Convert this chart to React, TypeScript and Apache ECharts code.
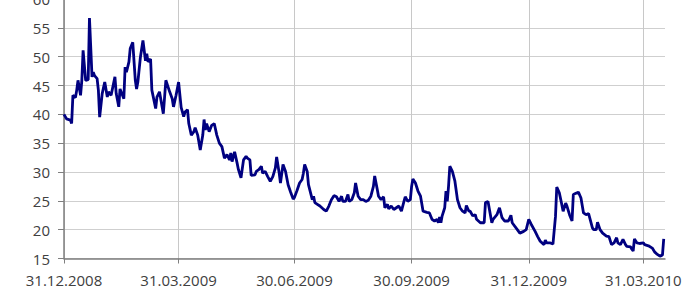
import React, { useEffect, useRef } from "react";
import * as echarts from "echarts";

// Days since 31.12.2008
const days = [
  0, 2, 5, 6, 7, 9, 10, 11, 13, 14, 15, 17, 19, 20, 22, 23, 24, 26, 27, 28,
  30, 32, 34, 35, 37, 40, 41, 43, 44, 47, 48, 49, 51, 52, 54, 56, 57, 58, 60, 62,
  64, 65, 66, 68, 69, 72, 73, 75, 78, 80, 83, 85, 86, 88, 90, 92, 94,
  95, 97, 98, 100, 102, 103, 105, 107, 109, 110, 111, 112, 114, 116, 118, 120, 122, 124,
  126, 128, 130, 131, 132, 134, 136, 137, 139, 141, 143, 144, 146, 147, 150, 151, 153,
  155, 156, 158, 160, 162, 164, 166, 167, 169, 170, 172, 174, 176, 178, 180, 181, 183, 185,
  187, 188, 189, 191, 192, 195, 196, 197, 199, 201, 204, 206, 208, 210, 212, 214, 216,
  218, 219, 221, 223, 224, 226, 228, 229, 231, 233, 235, 237, 239, 241, 243, 244, 246,
  247, 249, 251, 252, 254, 255, 257, 259, 261, 263, 265, 267, 268, 270, 272, 273, 274,
  276, 278, 280, 282, 285, 287, 289, 291, 293, 294, 295, 296, 297, 299, 300, 301, 302,
  303, 305, 307, 309, 311, 313, 315, 316, 318, 319, 321, 323, 324, 327, 330, 331, 333,
  335, 336, 337, 340, 342, 344, 346, 349, 351, 352, 353, 356, 358, 361, 363, 365, 367,
  370, 372, 374, 377, 378, 379, 382, 384, 386, 387, 389, 391, 392, 394, 395, 397, 399,
  400, 402, 404, 406, 408, 410, 412, 415, 416, 418, 419, 421, 423, 426, 428, 430, 432,
  434, 435, 437, 439, 441, 442, 445, 446, 447, 448, 450, 452, 455, 456, 459, 462, 464,
  466, 468, 469, 470, 471,
];

const values = [
  40.0, 39.2, 39.0, 38.4, 43.3, 42.9, 44.2, 45.9, 43.3, 45.9, 51.1, 45.9, 46.0, 56.7, 46.5, 47.3, 46.7, 46.2, 44.2, 39.5,
  43.6, 45.6, 43.0, 43.9, 43.3, 46.5, 43.6, 41.3, 44.4, 42.7, 48.2, 47.3, 49.1, 51.4, 52.5, 45.9, 44.4, 45.6, 49.9, 52.8,
  49.3, 50.5, 49.1, 49.6, 44.2, 41.0, 43.0, 43.9, 40.1, 45.9, 43.9, 42.7, 41.3, 43.3, 45.6, 41.2, 39.6,
  40.4, 40.8, 38.4, 36.4, 37.0, 37.7, 36.4, 33.8, 36.4, 39.1, 37.3, 38.4, 37.0, 38.1, 38.4, 36.4, 35.0, 34.4,
  32.4, 33.0, 32.1, 33.3, 31.8, 33.5, 31.5, 30.4, 29.0, 32.1, 32.7, 32.4, 32.1, 29.4, 29.5, 30.1, 30.4,
  31.0, 29.8, 30.1, 29.2, 28.4, 29.2, 30.7, 32.6, 29.8, 28.1, 31.3, 30.1, 27.8, 26.5, 25.3, 25.6, 26.8, 28.1,
  28.7, 29.8, 31.3, 30.1, 27.8, 25.2, 25.8, 24.7, 24.4, 24.1, 23.5, 23.2, 24.1, 25.2, 25.9, 25.7, 24.9,
  25.8, 24.9, 24.9, 26.1, 24.9, 25.2, 26.4, 28.1, 25.8, 25.2, 25.2, 24.9, 25.1, 25.8, 27.5, 29.3, 27.0,
  25.8, 25.2, 25.7, 23.8, 24.4, 23.6, 24.1, 23.5, 23.8, 24.1, 23.2, 24.9, 25.7, 24.9, 25.2, 27.5, 28.8,
  28.1, 26.7, 25.8, 23.2, 23.0, 22.9, 21.8, 21.5, 21.8, 21.2, 22.2, 21.2, 22.4, 23.8, 26.7, 24.9, 27.5,
  31.0, 30.1, 28.4, 25.2, 23.8, 23.2, 22.9, 24.2, 23.2, 23.2, 22.4, 22.6, 21.8, 21.2, 21.2, 24.7, 24.9,
  22.4, 21.2, 21.8, 22.6, 23.8, 22.1, 21.5, 21.5, 22.5, 21.2, 20.9, 20.0, 19.4, 19.7, 20.0, 21.8, 20.9,
  19.7, 18.8, 18.0, 17.4, 18.2, 17.7, 17.7, 17.5, 22.3, 27.4, 26.4, 24.3, 23.2, 24.6, 24.1, 22.6, 21.5,
  26.1, 26.3, 26.5, 25.5, 22.9, 22.6, 22.8, 20.3, 20.0, 20.0, 21.3, 20.0, 19.4, 18.9, 18.8, 17.4, 17.7,
  18.6, 17.7, 17.4, 18.3, 17.4, 17.1, 17.0, 16.6, 16.3, 18.4, 17.7, 17.6, 17.7, 17.4, 17.2, 16.8, 16.1,
  15.7, 15.4, 15.5, 15.6, 18.4,
];

// Tick positions (quarter ends) in days since 31.12.2008
const tickDays = [0, 90, 181, 273, 365, 455];
const axisMaxDay = 472;

const BASE = Date.UTC(2008, 11, 31);
const pad = (n: number) => (n < 10 ? "0" + n : "" + n);
const fmtDay = (d: number) => {
  const dt = new Date(BASE + Math.round(d) * 86400000);
  return pad(dt.getUTCDate()) + "." + pad(dt.getUTCMonth() + 1) + "." + dt.getUTCFullYear();
};

export default function App() {
  const ref = useRef<HTMLDivElement>(null);
  useEffect(() => {
    if (!ref.current) return;
    const chart = echarts.init(ref.current, null, { renderer: "svg" });
    const data = days.map((d, i) => [d, values[i]]);
    chart.setOption({
      animation: false,
      backgroundColor: "#ffffff",
      grid: {
        left: 64,
        right: 18,
        top: -1,
        bottom: 41.5,
        containLabel: false,
        outerBoundsMode: "none",
      },
      xAxis: {
        type: "value",
        min: 0,
        max: axisMaxDay,
        axisLine: { show: true, lineStyle: { color: "#7f7f7f", width: 1.5 } },
        axisTick: { show: true, length: 5, customValues: tickDays, lineStyle: { color: "#7f7f7f", width: 1 } },
        axisLabel: {
          customValues: tickDays,
          formatter: (v: number) => fmtDay(v),
          color: "#404040",
          fontFamily: "Open Sans",
          fontSize: 15,
          margin: 14,
        },
        splitLine: { show: true, lineStyle: { color: "#c8c8c8", width: 1 } },
      },
      yAxis: {
        type: "value",
        min: 15,
        max: 60,
        interval: 5,
        axisLine: { show: true, lineStyle: { color: "#7f7f7f", width: 1.5 } },
        axisTick: { show: true, length: 6, lineStyle: { color: "#7f7f7f", width: 1 } },
        axisLabel: {
          color: "#404040",
          fontFamily: "Open Sans",
          fontSize: 15,
          margin: 14,
        },
        splitLine: { show: true, lineStyle: { color: "#cfcfcf", width: 1 } },
      },
      series: [
        {
          type: "line",
          data,
          showSymbol: false,
          smooth: false,
          lineStyle: { color: "#000080", width: 2.8 },
          itemStyle: { color: "#000080" },
        },
      ],
    });
    return () => chart.dispose();
  }, []);
  return (
    <div
      ref={ref}
      style={{ position: "fixed", left: 0, top: 0, width: 683, height: 300, background: "#fff" }}
    />
  );
}
